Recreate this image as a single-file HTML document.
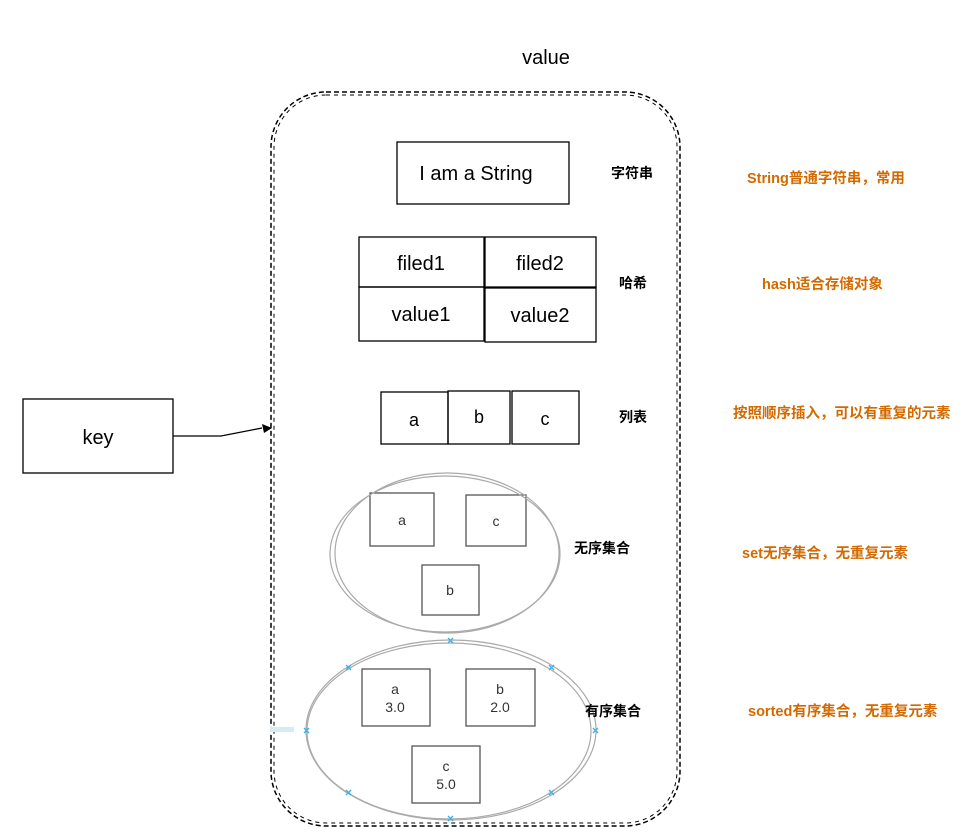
<!DOCTYPE html>
<html><head><meta charset="utf-8"><style>
body{margin:0;background:#fff;}
svg text{font-family:"Liberation Sans","Noto Sans CJK SC",sans-serif;}
</style></head><body>
<svg width="972" height="833" viewBox="0 0 972 833" xmlns="http://www.w3.org/2000/svg">
<rect width="972" height="833" fill="#fff"/>
<text x="546" y="64" font-size="20" text-anchor="middle" fill="#000">value</text>
<rect x="271" y="92" width="409" height="734" rx="55" fill="none" stroke="#000" stroke-width="1.5" stroke-dasharray="5,3"/>
<rect x="274" y="95" width="403" height="728" rx="52" fill="none" stroke="#000" stroke-width="1" stroke-dasharray="4,4"/>
<g fill="none" stroke="#000" stroke-width="1.3">
<rect x="23" y="399" width="150" height="74"/>
<rect x="397" y="142" width="172" height="62"/>
<rect x="359" y="237" width="125" height="50"/>
<rect x="485" y="237" width="111" height="50"/>
<rect x="359" y="287" width="125" height="54"/>
<rect x="485" y="288" width="111" height="54"/>
<rect x="381" y="392" width="67" height="52"/>
<rect x="448" y="391" width="62" height="53"/>
<rect x="512" y="391" width="67" height="53"/>
<path d="M173 436 L221 436 L262 428"/>
</g>
<path d="M272 428 L262 424 L264 433 Z" fill="#000"/>
<g fill="none" stroke="#555" stroke-width="1.3">
<rect x="370" y="493" width="64" height="53"/>
<rect x="466" y="495" width="60" height="51"/>
<rect x="422" y="565" width="57" height="50"/>
<rect x="362" y="669" width="68" height="57"/>
<rect x="466" y="669" width="69" height="57"/>
<rect x="412" y="746" width="68" height="57"/>
</g>
<g fill="none" stroke="#aaa" stroke-width="1.2">
<ellipse cx="445" cy="554" rx="115" ry="78"/>
<ellipse cx="447" cy="553" rx="112" ry="80"/>
<ellipse cx="451" cy="730" rx="145" ry="90"/>
<ellipse cx="449" cy="731" rx="142" ry="88"/>
</g>
<rect x="270" y="727" width="24" height="5" fill="#d5ecf7"/>
<g stroke="#3bb0f0" stroke-width="1.3">
<path d="M448 638l5 5M453 638l-5 5M346 665l5 5M351 665l-5 5M549 665l5 5M554 665l-5 5M304 728l5 5M309 728l-5 5M593 728l5 5M598 728l-5 5M346 790l5 5M351 790l-5 5M549 790l5 5M554 790l-5 5M448 816l5 5M453 816l-5 5"/>
</g>
<g font-size="20" text-anchor="middle" fill="#000">
<text x="98" y="444">key</text>
<text x="476" y="180">I am a String</text>
<text x="421" y="270">filed1</text>
<text x="540" y="270">filed2</text>
<text x="421" y="321">value1</text>
<text x="540" y="322">value2</text>
<text x="414" y="426" font-size="18">a</text>
<text x="479" y="423" font-size="18">b</text>
<text x="545" y="425" font-size="18">c</text>
</g>
<g font-size="14" text-anchor="middle" fill="#333">
<text x="402" y="525">a</text>
<text x="496" y="526">c</text>
<text x="450" y="595">b</text>
<text x="395" y="694">a</text>
<text x="395" y="712">3.0</text>
<text x="500" y="694">b</text>
<text x="500" y="712">2.0</text>
<text x="446" y="771">c</text>
<text x="446" y="789">5.0</text>
</g>
<g font-size="14" font-weight="bold" fill="#000">
<text x="611" y="178">字符串</text>
<text x="619" y="288">哈希</text>
<text x="619" y="422">列表</text>
<text x="574" y="553">无序集合</text>
<text x="585" y="716">有序集合</text>
</g>
<g font-size="14.5" font-weight="bold" fill="#d26a00">
<text x="747" y="183">String普通字符串，常用</text>
<text x="762" y="289">hash适合存储对象</text>
<text x="733" y="418">按照顺序插入，可以有重复的元素</text>
<text x="742" y="558">set无序集合，无重复元素</text>
<text x="748" y="716">sorted有序集合，无重复元素</text>
</g>
</svg>
</body></html>
